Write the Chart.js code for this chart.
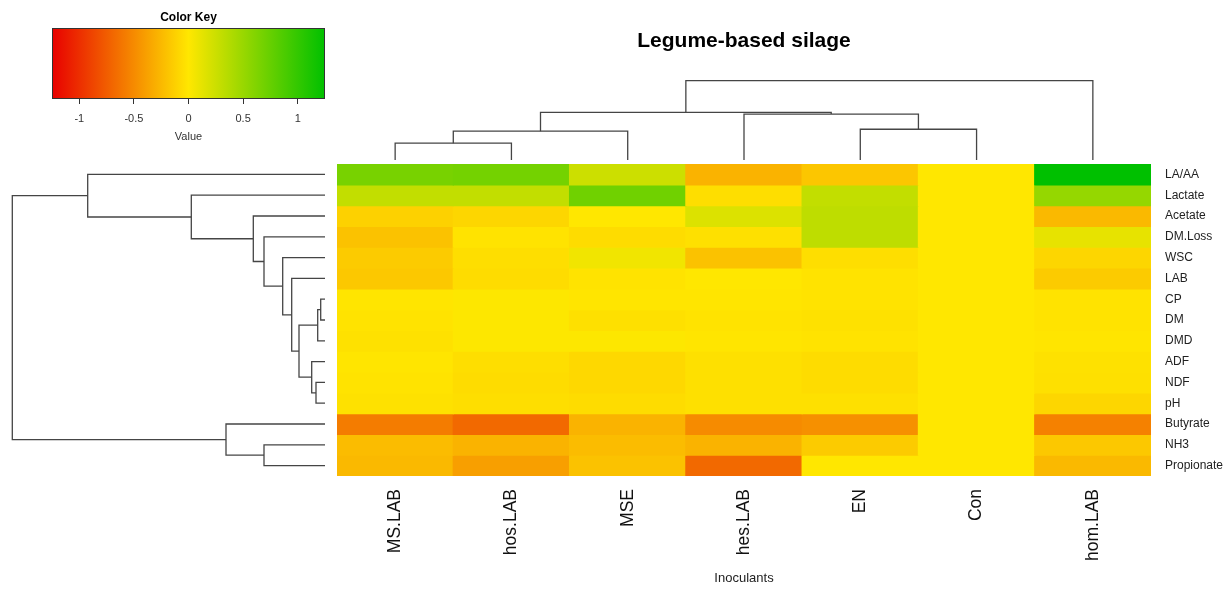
<!DOCTYPE html>
<html>
<head>
<meta charset="utf-8">
<script src="https://cdn.jsdelivr.net/npm/chart.js@4.4.1/dist/chart.umd.min.js"></script>
<style>
html,body{margin:0;padding:0;background:#fff;}
body{width:1226px;height:590px;position:relative;overflow:hidden;}
.box{position:absolute;}
</style>
</head>
<body>
<div class="box" style="left:0;top:0;width:340px;height:150px"><canvas id="keyChart"></canvas></div>
<div class="box" style="left:337px;top:0;width:814px;height:160px"><canvas id="colTree"></canvas></div>
<div class="box" style="left:0;top:164px;width:325px;height:312px"><canvas id="rowTree"></canvas></div>
<div class="box" style="left:337px;top:164px;width:889px;height:426px"><canvas id="heatChart"></canvas></div>
<script>
const columns = ["MS.LAB","hos.LAB","MSE","hes.LAB","EN","Con","hom.LAB"];
const rows = ["LA/AA","Lactate","Acetate","DM.Loss","WSC","LAB","CP","DM","DMD","ADF","NDF","pH","Butyrate","NH3","Propionate"];

// scaled values, one line per row, in column order
const cellValues = [
  [0.66, 0.68, 0.25, -0.28, -0.18, 0, 1.25],
  [0.30, 0.30, 0.70, -0.05, 0.30, 0, 0.52],
  [-0.12, -0.09, 0, 0.17, 0.32, 0, -0.25],
  [-0.20, -0.02, -0.06, -0.04, 0.32, 0, 0.12],
  [-0.15, -0.05, 0.07, -0.20, -0.05, 0, -0.09],
  [-0.17, -0.06, -0.02, 0, -0.02, 0, -0.15],
  [-0.01, 0.01, -0.01, -0.01, -0.02, 0, -0.02],
  [-0.02, 0.01, -0.04, -0.02, -0.03, 0, -0.02],
  [-0.03, 0.01, 0.01, -0.01, -0.02, 0, -0.01],
  [-0.01, -0.05, -0.08, -0.04, -0.06, 0, -0.03],
  [-0.02, -0.06, -0.08, -0.04, -0.06, 0, -0.04],
  [-0.03, -0.05, -0.06, -0.04, -0.04, 0, -0.09],
  [-0.58, -0.68, -0.28, -0.50, -0.47, 0, -0.55],
  [-0.23, -0.28, -0.23, -0.28, -0.15, 0, -0.17],
  [-0.25, -0.39, -0.20, -0.68, 0, 0, -0.25]
];

// colour key
const keyMin = -1.25, keyMax = 1.25;
const keyTicks = [-1, -0.5, 0, 0.5, 1];

// dendrograms, hclust style (negative = leaf in display order, positive = earlier merge)
const colMerge = [[-1,-2],[1,-3],[-5,-6],[-4,3],[2,4],[5,-7]];
const colHeight = [1.73, 2.97, 3.17, 4.73, 4.90, 8.17];
const rowMerge = [[-7,-8],[1,-9],[-11,-12],[-10,3],[2,4],[-6,5],[-5,6],[-4,7],[-3,8],[-2,9],[-1,10],[-14,-15],[-13,12],[11,13]];
const rowHeight = [0.43, 0.73, 0.90, 1.33, 2.60, 3.33, 4.23, 6.10, 7.17, 13.37, 23.73, 6.10, 9.90, 31.27];

const FONT = "'Liberation Sans', Arial, sans-serif";
Chart.defaults.font.family = FONT;

const RED = [232,0,0], YEL = [255,231,0], GRN = [0,192,0];
function mix(a,b,t){ return a.map((c,i)=>Math.round(c+(b[i]-c)*t)); }
function valueColor(v){
  let t = Math.max(-1, Math.min(1, v/keyMax));
  let c = t < 0 ? mix(YEL, RED, -t) : mix(YEL, GRN, t);
  return "rgb("+c.join(",")+")";
}

function dendroSegments(merge, height){
  let pos = [], segs = [];
  merge.forEach((m,i)=>{
    let kids = m.map(k => k < 0 ? {p:-k-1, h:0} : {p:pos[k-1], h:height[k-1]});
    pos[i] = (kids[0].p + kids[1].p)/2;
    segs.push([[kids[0].p,kids[0].h],[kids[0].p,height[i]],[kids[1].p,height[i]],[kids[1].p,kids[1].h]]);
  });
  return segs;
}

const lineStyle = {showLine:true, pointRadius:0, borderColor:"#454545", borderWidth:1.3, tension:0, clip:false};
const base = {animation:false, responsive:true, maintainAspectRatio:false, events:[]};

/* colour key */
new Chart(document.getElementById("keyChart"),{
  type:"bar",
  data:{labels:[""], datasets:[{
    data:[[keyMin,keyMax]],
    backgroundColor:(ctx)=>{
      const ca = ctx.chart.chartArea;
      if(!ca) return valueColor(0);
      const g = ctx.chart.ctx.createLinearGradient(ca.left,0,ca.right,0);
      [keyMin,-1.1,0,keyMax].forEach(v=>g.addColorStop((v-keyMin)/(keyMax-keyMin), valueColor(v)));
      return g;
    },
    borderColor:"#333", borderWidth:1, borderSkipped:false,
    barPercentage:1, categoryPercentage:1, inflateAmount:0
  }]},
  options:{...base, indexAxis:"y",
    layout:{padding:{left:52,right:15,top:10,bottom:0}},
    plugins:{legend:{display:false}, tooltip:{enabled:false},
      title:{display:true, text:"Color Key", color:"#000", font:{size:12,weight:"bold"}, padding:{top:0,bottom:3.6}}},
    scales:{
      x:{type:"linear", min:keyMin, max:keyMax,
        afterBuildTicks:s=>{ s.ticks = keyTicks.map(v=>({value:v})); },
        grid:{drawOnChartArea:false, drawTicks:true, tickLength:5, color:"#333"},
        border:{display:false},
        ticks:{padding:8, color:"#333", font:{size:11}, callback:v=>String(v)},
        title:{display:true, text:"Value", color:"#333", font:{size:11}, padding:{top:0,bottom:6}},
        afterFit:s=>{ s.height = 51; }},
      y:{display:false}
    }}
});

/* column dendrogram + title */
new Chart(document.getElementById("colTree"),{
  type:"scatter",
  data:{datasets: dendroSegments(colMerge,colHeight).map(s=>({...lineStyle, data:s.map(p=>({x:p[0],y:p[1]}))}))},
  options:{...base,
    layout:{padding:0},
    plugins:{legend:{display:false}, tooltip:{enabled:false},
      title:{display:true, text:"Legume-based silage", color:"#000", font:{size:21,weight:"bold"}, padding:{top:29,bottom:0}}},
    scales:{
      x:{type:"linear", display:false, min:-0.5, max:columns.length-0.5},
      y:{type:"linear", display:false, min:0, max:10.9}
    }}
});

/* row dendrogram */
new Chart(document.getElementById("rowTree"),{
  type:"scatter",
  data:{datasets: dendroSegments(rowMerge,rowHeight).map(s=>({...lineStyle, data:s.map(p=>({x:p[1],y:p[0]}))}))},
  options:{...base,
    layout:{padding:0},
    plugins:{legend:{display:false}, tooltip:{enabled:false}},
    scales:{
      x:{type:"linear", display:false, reverse:true, min:0, max:32.5},
      y:{type:"linear", display:false, reverse:true, min:-0.5, max:rows.length-0.5}
    }}
});

/* heatmap */
new Chart(document.getElementById("heatChart"),{
  type:"bar",
  data:{labels:columns, datasets: rows.map((r,i)=>({
    label:r, data:columns.map(()=>1),
    backgroundColor:cellValues[i].map(valueColor),
    borderWidth:0, barPercentage:1, categoryPercentage:1, inflateAmount:0.6
  }))},
  options:{...base,
    layout:{padding:0},
    plugins:{legend:{display:false}, tooltip:{enabled:false}},
    scales:{
      x:{stacked:true, grid:{display:false, drawTicks:false}, border:{display:false},
        ticks:{autoSkip:false, minRotation:90, maxRotation:90, padding:13, color:"#111", font:{size:17.5}},
        title:{display:true, text:"Inoculants", color:"#222", font:{size:13}, padding:{top:0,bottom:4}},
        afterFit:s=>{ s.height = 114; s.paddingLeft = 0; s.paddingRight = 0; }},
      y:{stacked:true, position:"right", reverse:true, min:0, max:rows.length,
        grid:{display:false, drawTicks:false}, border:{display:false},
        afterBuildTicks:s=>{ s.ticks = rows.map((_,i)=>({value:i+0.5})); },
        ticks:{padding:14, color:"#222", font:{size:12}, callback:(v,i)=>rows[i]},
        afterFit:s=>{ s.width = 75; s.paddingTop = 0; s.paddingBottom = 0; }}
    }}
});
</script>
</body>
</html>
